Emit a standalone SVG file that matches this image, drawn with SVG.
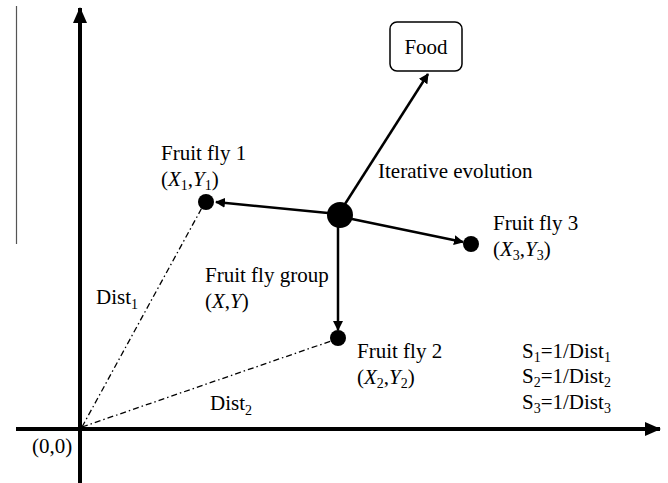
<svg xmlns="http://www.w3.org/2000/svg" width="668" height="483" viewBox="0 0 668 483">
<defs>
<marker id="ah" markerWidth="10" markerHeight="10" refX="9" refY="5" orient="auto" markerUnits="userSpaceOnUse">
<path d="M0,0 L10,5 L0,10 Z" fill="#000"/>
</marker>
<marker id="axh" markerWidth="16" markerHeight="14" refX="15" refY="7" orient="auto" markerUnits="userSpaceOnUse">
<path d="M0,0 L16,7 L0,14 Z" fill="#000"/>
</marker>
</defs>
<style>
text{font-family:"Liberation Serif","Times New Roman",serif;font-size:21px;fill:#000}
.it{font-style:italic}
.sub{font-size:14px}
.arr{stroke:#000;stroke-width:2.5;fill:none;marker-end:url(#ah)}
.axis{stroke:#000;stroke-width:4;fill:none;marker-end:url(#axh)}
.dd{stroke:#000;stroke-width:1.3;fill:none;stroke-dasharray:6 3 1.5 3}
</style>
<rect width="668" height="483" fill="#fff"/>
<line x1="16.5" y1="6" x2="16.5" y2="244" stroke="#555" stroke-width="1.2"/>
<g id="axes">
<line class="axis" x1="80" y1="483" x2="80" y2="8"/>
<line class="axis" x1="16" y1="429" x2="660" y2="429"/>
<text x="32" y="453">(0,0)</text>
</g>
<g id="connectors">
<line class="arr" x1="345" y1="204" x2="428" y2="74"/>
<line class="arr" x1="328" y1="213" x2="216" y2="202"/>
<line class="arr" x1="352" y1="219" x2="463" y2="242"/>
<line class="arr" x1="338" y1="226" x2="338" y2="330"/>
<line class="dd" x1="82" y1="427" x2="204" y2="204"/>
<line class="dd" x1="82" y1="427" x2="334" y2="340"/>
</g>
<g id="food">
<rect x="390" y="22" width="72" height="49" rx="7" fill="#fff" stroke="#000" stroke-width="1.5"/>
<text x="426" y="54" text-anchor="middle">Food</text>
</g>
<g id="group">
<circle cx="340" cy="215" r="13" fill="#000"/>
<text x="378" y="178">Iterative evolution</text>
<text x="205" y="282">Fruit fly group</text>
<text x="205" y="308">(<tspan class="it">X</tspan>,<tspan class="it">Y</tspan>)</text>
</g>
<g id="fly1">
<circle cx="206" cy="202" r="8" fill="#000"/>
<text x="161" y="160">Fruit fly 1</text>
<text x="161" y="186">(<tspan class="it">X</tspan><tspan class="sub" dy="4">1</tspan><tspan dy="-4">,</tspan><tspan class="it">Y</tspan><tspan class="sub" dy="4">1</tspan><tspan dy="-4">)</tspan></text>
</g>
<g id="fly3">
<circle cx="471" cy="244" r="8" fill="#000"/>
<text x="493" y="230">Fruit fly 3</text>
<text x="493" y="256">(<tspan class="it">X</tspan><tspan class="sub" dy="4">3</tspan><tspan dy="-4">,</tspan><tspan class="it">Y</tspan><tspan class="sub" dy="4">3</tspan><tspan dy="-4">)</tspan></text>
</g>
<g id="fly2">
<circle cx="338" cy="338" r="8" fill="#000"/>
<text x="357" y="358">Fruit fly 2</text>
<text x="357" y="384">(<tspan class="it">X</tspan><tspan class="sub" dy="4">2</tspan><tspan dy="-4">,</tspan><tspan class="it">Y</tspan><tspan class="sub" dy="4">2</tspan><tspan dy="-4">)</tspan></text>
</g>
<g id="labels">
<text x="96" y="304">Dist<tspan class="sub" dy="5">1</tspan></text>
<text x="210" y="410">Dist<tspan class="sub" dy="5">2</tspan></text>
<text x="522" y="358">S<tspan class="sub" dy="4">1</tspan><tspan dy="-4">=1/Dist</tspan><tspan class="sub" dy="4">1</tspan></text>
<text x="522" y="383">S<tspan class="sub" dy="4">2</tspan><tspan dy="-4">=1/Dist</tspan><tspan class="sub" dy="4">2</tspan></text>
<text x="522" y="409">S<tspan class="sub" dy="4">3</tspan><tspan dy="-4">=1/Dist</tspan><tspan class="sub" dy="4">3</tspan></text>
</g>
</svg>
